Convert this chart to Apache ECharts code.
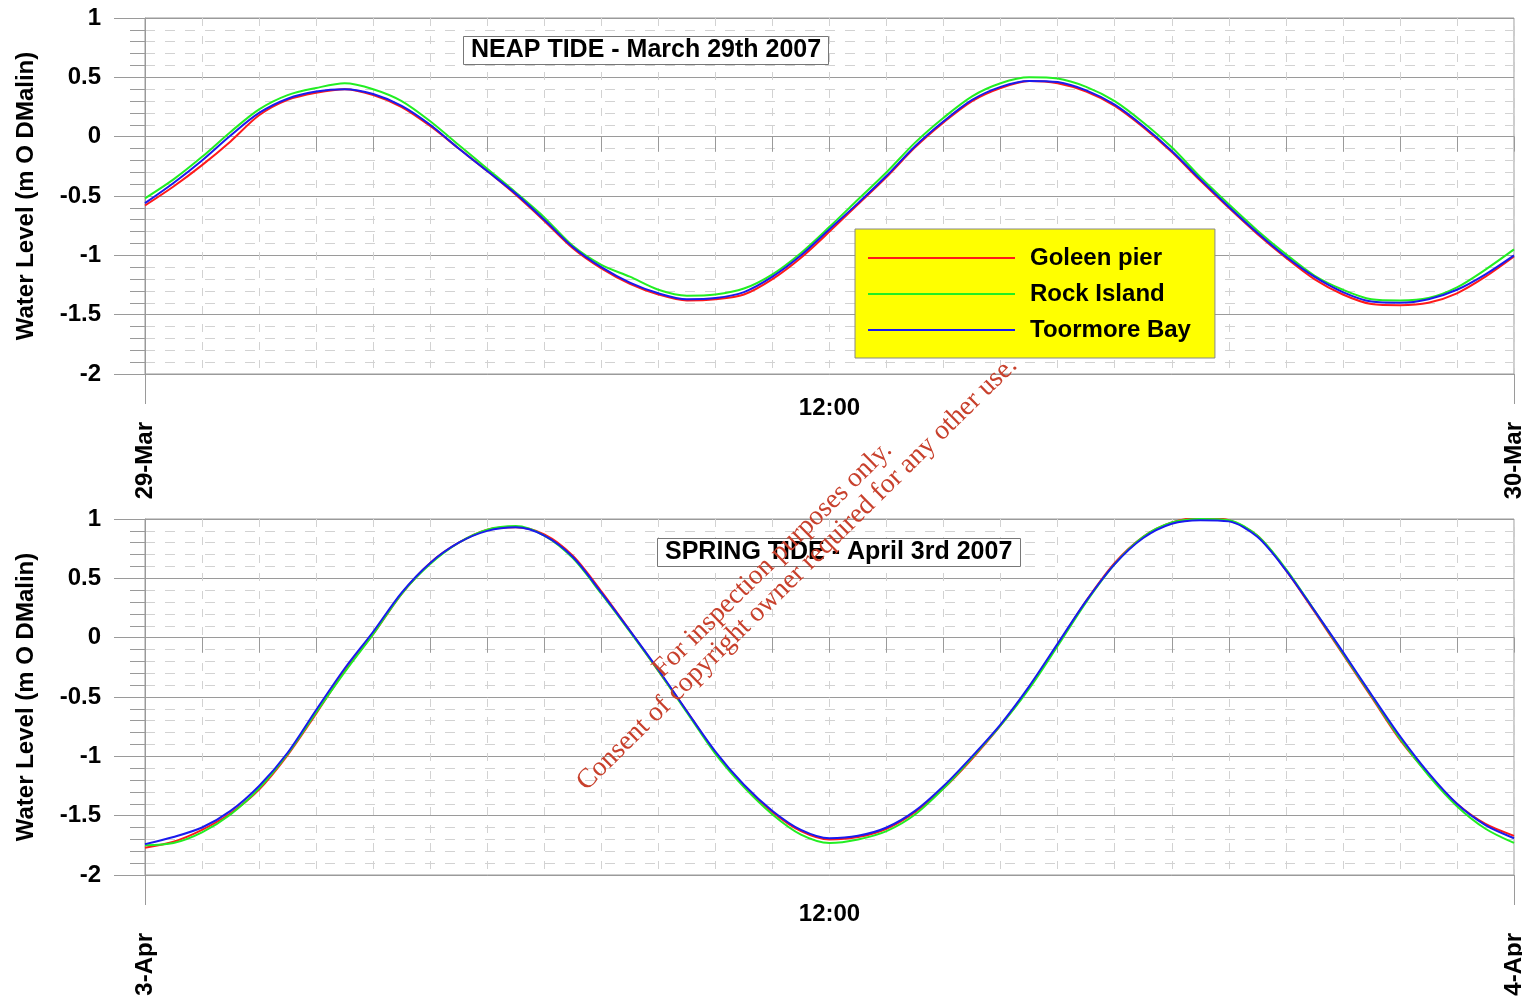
<!DOCTYPE html>
<html>
<head>
<meta charset="utf-8">
<title>Neap and spring tide</title>
<script src="https://cdn.jsdelivr.net/npm/echarts@6/dist/echarts.min.js"></script>
<style>
  html, body { margin: 0; padding: 0; background: #fff; }
  #tides { width: 1522px; height: 1002px; }
</style>
</head>
<body>
<div id="tides"></div>
<script>
// hours after midnight, half-hourly readings
var hours = [0, 0.5, 1, 1.5, 2, 2.5, 3, 3.5, 4, 4.5, 5, 5.5, 6, 6.5, 7, 7.5, 8, 8.5, 9, 9.5,
  10, 10.5, 11, 11.5, 12, 12.5, 13, 13.5, 14, 14.5, 15, 15.5, 16, 16.5, 17, 17.5, 18, 18.5,
  19, 19.5, 20, 20.5, 21, 21.5, 22, 22.5, 23, 23.5, 24];

var seriesNames = ["Goleen pier", "Rock Island", "Toormore Bay"];
var seriesColors = ["#ff1a1a", "#22ee22", "#1a1aee"];

// neap tide, 29 March 2007 (m O DMalin)
var neapGoleen = [-0.58, -0.42, -0.24, -0.04, 0.18, 0.31, 0.37, 0.40, 0.35, 0.25, 0.09, -0.10, -0.29,
  -0.49, -0.71, -0.94, -1.11, -1.24, -1.33, -1.38, -1.37, -1.33, -1.20, -1.02, -0.80, -0.57, -0.34,
  -0.09, 0.12, 0.30, 0.41, 0.47, 0.45, 0.38, 0.26, 0.08, -0.13, -0.37, -0.60, -0.82, -1.02, -1.20,
  -1.33, -1.41, -1.42, -1.40, -1.32, -1.18, -1.01];
var neapRock = [-0.52, -0.36, -0.17, 0.04, 0.23, 0.35, 0.41, 0.45, 0.40, 0.30, 0.13, -0.07, -0.27,
  -0.47, -0.68, -0.92, -1.08, -1.18, -1.29, -1.34, -1.33, -1.28, -1.16, -0.98, -0.76, -0.53, -0.30,
  -0.05, 0.16, 0.34, 0.45, 0.50, 0.49, 0.42, 0.30, 0.12, -0.09, -0.34, -0.57, -0.79, -0.99, -1.17,
  -1.29, -1.37, -1.38, -1.36, -1.27, -1.12, -0.95];
var neapToormore = [-0.56, -0.39, -0.20, 0.01, 0.20, 0.32, 0.38, 0.40, 0.36, 0.26, 0.10, -0.10, -0.29,
  -0.48, -0.70, -0.93, -1.10, -1.23, -1.32, -1.37, -1.36, -1.31, -1.18, -1.00, -0.78, -0.56, -0.33,
  -0.08, 0.13, 0.31, 0.42, 0.47, 0.46, 0.39, 0.27, 0.09, -0.12, -0.36, -0.59, -0.81, -1.01, -1.18,
  -1.31, -1.39, -1.40, -1.37, -1.29, -1.16, -1.00];

// spring tide, 3 April 2007 (m O DMalin)
var springGoleen = [-1.77, -1.72, -1.62, -1.48, -1.28, -0.99, -0.64, -0.28, 0.03, 0.37, 0.63, 0.80, 0.91,
  0.93, 0.87, 0.69, 0.39, 0.06, -0.28, -0.62, -0.97, -1.25, -1.47, -1.63, -1.70, -1.68, -1.61,
  -1.47, -1.27, -1.02, -0.74, -0.42, -0.06, 0.31, 0.63, 0.85, 0.97, 1.01, 0.99, 0.86, 0.57, 0.22,
  -0.14, -0.50, -0.86, -1.15, -1.40, -1.57, -1.67];
var springRock = [-1.75, -1.73, -1.64, -1.49, -1.27, -0.98, -0.63, -0.29, 0.03, 0.37, 0.62, 0.80, 0.91,
  0.94, 0.86, 0.67, 0.37, 0.05, -0.28, -0.63, -0.98, -1.26, -1.49, -1.66, -1.73, -1.70, -1.63,
  -1.49, -1.27, -1.01, -0.74, -0.43, -0.07, 0.30, 0.62, 0.85, 0.97, 1.00, 0.99, 0.86, 0.58, 0.23,
  -0.13, -0.49, -0.85, -1.16, -1.42, -1.61, -1.73];
var springToormore = [-1.74, -1.68, -1.60, -1.46, -1.25, -0.97, -0.61, -0.26, 0.05, 0.38, 0.63, 0.80, 0.90,
  0.93, 0.86, 0.68, 0.38, 0.06, -0.27, -0.62, -0.96, -1.24, -1.46, -1.62, -1.69, -1.67, -1.60,
  -1.46, -1.25, -1.00, -0.73, -0.41, -0.05, 0.31, 0.62, 0.84, 0.96, 0.99, 0.98, 0.85, 0.57, 0.23,
  -0.12, -0.48, -0.83, -1.14, -1.40, -1.58, -1.69];

var plotTitles = ["NEAP TIDE - March 29th 2007", "SPRING TIDE - April 3rd 2007"];
var dayLabels = [["29-Mar", "30-Mar"], ["3-Apr", "4-Apr"]];
var midLabel = "12:00";
var yName = "Water Level (m O DMalin)";

var FONT = "Liberation Sans, Arial, sans-serif";
var GRID_GRAY = "#9a9a9a";
var DASH_GRAY = "#d2d2d2";

function pairs(vals) {
  return hours.map(function (h, i) { return [h, vals[i]]; });
}

var grids = [
  { left: 145, right: 8, top: 18, height: 356 },
  { left: 145, right: 8, top: 519, height: 356 }
];
// label offsets below each plot
var midMargins = [22, 27];
var dayMargins = [48, 58];

var xAxes = [];
var yAxes = [];
grids.forEach(function (g, gi) {
  g.show = true;
  g.borderColor = GRID_GRAY;
  g.borderWidth = 1;
  g.outerBoundsMode = "none";
  // hourly ticks, 12:00 label
  xAxes.push({
    type: "value", gridIndex: gi, position: "bottom", min: 0, max: 24, interval: 1,
    axisLine: { lineStyle: { color: GRID_GRAY } },
    axisTick: { length: 15, lineStyle: { color: GRID_GRAY } },
    axisLabel: {
      margin: midMargins[gi], color: "#000", fontSize: 24, fontWeight: "bold", fontFamily: FONT,
      formatter: function (v) { return v === 12 ? midLabel : ""; }
    },
    splitLine: { show: true, lineStyle: { color: DASH_GRAY, type: [8, 10] } }
  });
  // day labels at the ends
  xAxes.push({
    type: "value", gridIndex: gi, position: "bottom", min: 0, max: 24, interval: 24,
    axisLine: { show: false },
    axisTick: { length: 30, lineStyle: { color: GRID_GRAY } },
    axisLabel: {
      rotate: 90, margin: dayMargins[gi], color: "#000", fontSize: 24, fontWeight: "bold", fontFamily: FONT,
      formatter: function (v) { return v === 0 ? dayLabels[gi][0] : dayLabels[gi][1]; }
    },
    splitLine: { show: false }
  });
  yAxes.push({
    type: "value", gridIndex: gi, min: -2, max: 1, interval: 0.5,
    name: yName, nameLocation: "middle", nameGap: 107,
    nameTextStyle: { color: "#000", fontSize: 24, fontWeight: "bold", fontFamily: FONT },
    axisLine: { show: true, lineStyle: { color: GRID_GRAY } },
    axisTick: { show: true, length: 31, lineStyle: { color: GRID_GRAY } },
    minorTick: { show: true, splitNumber: 5, length: 15, lineStyle: { color: GRID_GRAY } },
    axisLabel: { margin: 44, color: "#000", fontSize: 24, fontWeight: "bold", fontFamily: FONT },
    splitLine: { lineStyle: { color: GRID_GRAY } },
    minorSplitLine: { show: true, lineStyle: { color: DASH_GRAY, type: [10, 10] } }
  });
});

var sets = [[neapGoleen, neapRock, neapToormore], [springGoleen, springRock, springToormore]];
var series = [];
sets.forEach(function (set, gi) {
  set.forEach(function (vals, si) {
    series.push({
      type: "line", name: seriesNames[si],
      xAxisIndex: gi * 2, yAxisIndex: gi,
      data: pairs(vals),
      symbol: "none", smooth: 0.3,
      lineStyle: { width: 2, color: seriesColors[si] },
      itemStyle: { color: seriesColors[si] }
    });
  });
});

var titleBox = function (text, left, top) {
  return {
    text: text, left: left, top: top,
    backgroundColor: "#fff", borderColor: "#777", borderWidth: 1, padding: [2, 8],
    textStyle: { color: "#000", fontSize: 25, fontWeight: "bold", fontFamily: FONT }
  };
};

var stampFont = '27.5px "Liberation Serif", "Times New Roman", serif';

var option = {
  animation: false,
  backgroundColor: "#fff",
  title: [titleBox(plotTitles[0], 463, 36), titleBox(plotTitles[1], 657, 538)],
  legend: {
    data: seriesNames, orient: "vertical", left: 855, top: 229,
    backgroundColor: "#ffff00", borderColor: "#888", borderWidth: 1,
    padding: [17, 24, 16, 13], itemWidth: 147, itemHeight: 2, itemGap: 12,
    icon: "rect",
    selectedMode: false,
    textStyle: { color: "#000", fontSize: 24, fontWeight: "bold", fontFamily: FONT, padding: [0, 0, 0, 10] }
  },
  grid: grids,
  xAxis: xAxes,
  yAxis: yAxes,
  series: series,
  graphic: [
    {
      type: "text", x: 667, y: 683, rotation: 0.777, z: 100,
      style: { text: "For inspection purposes only.", fill: "#c8402c", font: stampFont, verticalAlign: "bottom" }
    },
    {
      type: "text", x: 591, y: 796, rotation: 0.777, z: 100,
      style: { text: "Consent of copyright owner required for any other use.", fill: "#c8402c", font: stampFont, verticalAlign: "bottom" }
    }
  ]
};

var chart = echarts.init(document.getElementById("tides"));
chart.setOption(option);
</script>
</body>
</html>
